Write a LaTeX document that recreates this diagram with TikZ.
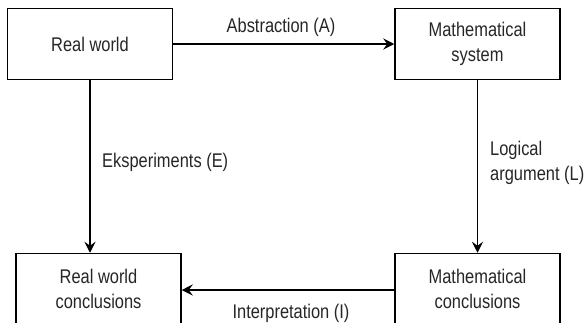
\documentclass[tikz,border=0pt]{standalone}
\usepackage{fontspec}
\setmainfont[FakeStretch=0.83]{Liberation Sans}
\usetikzlibrary{arrows.meta}
\begin{document}
\begin{tikzpicture}[x=1pt,y=-1pt,>={Stealth[length=11pt,width=11pt,inset=4pt]},
    box/.style={draw,line width=1.5pt,minimum width=165pt,minimum height=71pt,inner sep=0pt,align=center,font=\fontsize{19.8}{25}\selectfont,text=black!85},
    lbl/.style={inner sep=0pt,align=left,font=\fontsize{19.8}{25}\selectfont,text=black!85}]
\useasboundingbox (0,0) rectangle (586,322);
\node[box](rw) at (90,44){Real world};
\node[box](ms) at (477.5,44){Mathematical\\system};
\node[box](rwc) at (98.5,289){Real world\\conclusions};
\node[box](mc) at (477.5,289){Mathematical\\conclusions};
\draw[->,line width=1.5pt](rw)--(ms);
\draw[->,line width=1.5pt](rw.south)--(rw.south|-rwc.north);
\draw[->,line width=1.5pt](ms)--(mc);
\draw[->,line width=1.5pt](mc.west|-0,290)--(rwc.east|-0,290);
\node[lbl](abs) at (281,27){Abstraction (A)};
\node[lbl,anchor=west](eks) at (102,162){Eksperiments (E)};
\node[lbl,anchor=west](log) at (490,162.5){Logical\\argument (L)};
\node[lbl](int) at (291,313){Interpretation (I)};
\end{tikzpicture}
\end{document}
